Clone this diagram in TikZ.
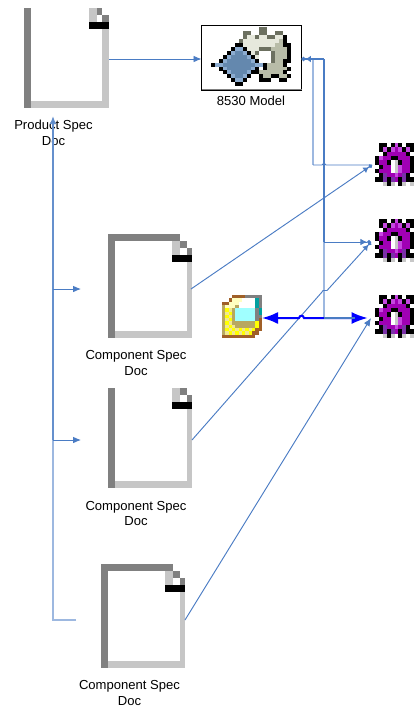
\documentclass[tikz,border=0pt]{standalone}
\usepackage{fontspec}
\setmainfont{Liberation Sans}
\usetikzlibrary{arrows.meta}
\definecolor{pxK}{HTML}{000000}
\definecolor{pxP}{HTML}{A000B4}
\definecolor{pxL}{HTML}{C648E0}
\definecolor{pxD}{HTML}{7A30A8}
\definecolor{pxS}{HTML}{C8C8C8}
\definecolor{pxW}{HTML}{FFFFFF}
\definecolor{pxM}{HTML}{6488AE}
\definecolor{pxV}{HTML}{8CACD0}
\definecolor{pxE}{HTML}{E6E8DC}
\definecolor{pxB}{HTML}{B8BCA8}
\definecolor{pxG}{HTML}{6C7060}
\definecolor{pxN}{HTML}{A06028}
\definecolor{pxA}{HTML}{808080}
\definecolor{pxI}{HTML}{FFFFC0}
\definecolor{pxO}{HTML}{B8A860}
\definecolor{pxC}{HTML}{A0FFFF}
\definecolor{pxT}{HTML}{00A0A0}
\definecolor{pxY}{HTML}{FFFF00}
\definecolor{pxQ}{HTML}{F0E890}
\definecolor{linkblue}{HTML}{4A7CC4}
\definecolor{linklight}{HTML}{9DB8E0}
\definecolor{docdark}{HTML}{808080}
\definecolor{doclight}{HTML}{C6C6C6}
\newcount\pxcol
\newcount\pxrow
\def\pxcell#1{\fill[px#1] (\the\pxcol,\the\pxrow) rectangle ++(1.02,1.02);}
\def\pxmap#1{\ifx#1!\else
  \ifx#1/\pxcol=0 \advance\pxrow by 1 \else
    \ifx#1.\else\pxcell{#1}\fi
    \advance\pxcol by 1 \fi
  \expandafter\pxmap\fi}
% \iconmap{x}{y}{cell w}{cell h}{rows}
\newcommand{\iconmap}[5]{\begin{scope}[shift={(#1,#2)},x=#3*.75pt,y=-#4*.75pt]
  \pxcol=0 \pxrow=0 \pxmap#5!\end{scope}}
\newcommand{\gearicon}[3]{\node[box,minimum width=29.25pt,minimum height=32.25pt] (#1) at (394.5,#3) {};
  \iconmap{375}{#2}{3.9}{4.3}{.KK.KLK.KK/.KLKLPLKLK/..KPPPPPK./KLPPKKPPPK/KPPKWSKPPK/.KPPWSLPPK/KPPPWSLPPK/.KDPPLPDK./KKDKDPKDKK/..SKS.KS.S/}}
% \docicon{name}{L}{T}{R}{B}{bar width}{top bar: 1/0}
\newcommand{\docicon}[7]{%
  \node[box,minimum width={(#4-#2)*.75pt},minimum height={(#5-#3)*.75pt}] (#1) at ({(#2+#4)/2},{(#3+#5)/2}) {};
  \fill[docdark] (#2,#3) rectangle ({#2+7},#5);
  \fill[doclight] ({#2+7},{#5-7}) rectangle (#4,#5);
  \fill[doclight] ({#4-#6},{#3+14+#7*7}) rectangle (#4,#5);
  \ifnum#7=1 \fill[docdark] (#2,#3) rectangle ({#4-12},{#3+7});\fi
  \fill[doclight] ({#4-20},{#3+#7*7}) rectangle ({#4-12},{#3+14+#7*7});
  \fill[docdark] ({#4-12},{#3+#7*7}) rectangle ({#4-#6},{#3+7+#7*7});
  \fill[docdark] ({#4-#6},{#3+7+#7*7}) rectangle (#4,{#3+14+#7*7});
  \fill[black] ({#4-20},{#3+14+#7*7}) rectangle (#4,{#3+21+#7*7});}
\tikzset{
  box/.style={inner sep=0pt,outer sep=0pt},
  lbl/.style={inner sep=0pt,align=center,font=\fontsize{9.8}{11.8}\selectfont},
  link/.style={draw=linkblue,line width=.7pt},
  lightlink/.style={draw=linklight,line width=1.1pt},
  heavylink/.style={draw=linkblue,line width=1.1pt},
  tip/.style={-{Latex[length=6pt,width=5pt,fill=linkblue]}},
  dottip/.style={-{Latex[length=4pt,width=5pt,fill=linkblue]Circle[length=3pt,fill=linkblue]}},
  blueline/.style={draw=blue,line width=1.5pt,{Latex[length=12pt,width=9pt]}-{Latex[length=12pt,width=9pt]}}
}
\begin{document}
\begin{tikzpicture}[x=.75pt,y=-.75pt]
\useasboundingbox (0,0) rectangle (414,707);
\fill[white] (0,0) rectangle (414,707);
\docicon{prod}{24}{8}{109}{108}{7}{0}
\docicon{compa}{108}{234}{192}{338}{5}{1}
\docicon{compb}{108}{388}{192}{488}{5}{0}
\docicon{compc}{101}{564}{185}{668}{5}{1}
\node[lbl] (prodl) at (53.5,133) {Product Spec\\Doc};
\node[lbl] (compal) at (136,363) {Component Spec\\Doc};
\node[lbl] (compbl) at (136,513.5) {Component Spec\\Doc};
\node[lbl] (compcl) at (129.5,693) {Component Spec\\Doc};
\node[box,draw=black,line width=.75pt,minimum width=75pt,minimum height=48.75pt] (model) at (251.5,57.5) {};
\fill[gray] (model.south west) rectangle ([yshift=.9pt]model.south east);
\iconmap{211}{27}{4}{3.95}{............GG....../........GG..GG..GG../........GEEGEEGGEEK./.......GEEEEEEEEEBK./......KKEEEEEEEEBBKK/.....KVVKEEEGGGBBBBK/....KVMMVKEGWWWGBBBK/...KVMMMMVKEWWWGBBBK/..KVMMMMMMVKWWWGBBKK/KVVMMMMMMMMVVKBBBBK./..KVMMMMMMVK.KBBBBBK/...KVMMMMVKKBBBBBBK./....KVMMVK..KBBKKBBK/.....KVVK...KKK..KK./......KK............/}
\node[lbl] (modell) at (251,101) {8530 Model};
\gearicon{ga}{143}{164.5}
\gearicon{gb}{219}{240.5}
\gearicon{gc}{295}{316.5}
\node[box,minimum width=30pt,minimum height=32.25pt] (folder) at (242,316.5) {};
\iconmap{222}{295}{3.33}{3.3}{...NNNNAAAAA/..NIIIWWWWTA/NNIIIWWWWWTA/OIIIOWWWWWTA/OYQOCCCCCCAT/OQYOCCCCCCAT/OYQOCCCCCCAA/OQYOCCCCCCAN/OYQOOOOOOOYN/OQYQOOOOOOYN/OYQYQYQYQYNN/OQYQYQYQYNN./NNNNNNNNNN../}
% routing points
\coordinate (hub) at (324,59);
\coordinate (hubl) at (313,59);
\coordinate (bus) at (53,116);
\coordinate (busa) at (53,289);
\coordinate (busb) at (53,440);
\coordinate (busc) at (53,620);
\coordinate (busaend) at (81,289);
\coordinate (busbend) at (81,440);
\coordinate (buscend) at (76,620);
\coordinate (pa) at (372,165);
\coordinate (pb) at (371,242);
\coordinate (pc) at (371,318);
\coordinate (hubb) at (324,242);
\coordinate (hubc) at (324,318);
\coordinate (outa) at (191,289);
\coordinate (outb) at (192,440);
\coordinate (outc) at (185,620);
\coordinate (corner) at (313,165);
% connectors
\draw[link,tip] (prod.east |- hub) -- (model.west |- hub);
\draw[lightlink] (buscend) -- (busc) -- (busb);
\draw[heavylink,draw=linkblue!85,tip] (busb) -- (bus);
\draw[link,tip] (busa) -- (busaend);
\draw[link,tip] (busb) -- (busbend);
\draw[lightlink] (hubl) -- (corner);
\draw[link] (corner) -- (322,165) .. controls (322.5,162.5) and (325.5,162.5) .. (326,165) -- (pa);
\draw[heavylink] (hub) -- (hubb);
\draw[heavylink,dottip] (hub) -- (model.east |- hub);
\draw[lightlink] (hubb) -- (hubc);
\draw[link,-{Latex[length=5pt,width=5pt,fill=linkblue]Circle[length=3pt,fill=linkblue]}] (hubb) -- (pb);
\draw[link,dottip] (outa) -- (pa);
\draw[link,dottip] (outb) -- (322,292) -- (323,290.5) -- (327,290.5) -- (pb);
\draw[link,tip] (outc) -- (pc);
\draw[blueline,shorten >=2.5pt] (folder.east |- pc) -- (299,318) .. controls (299.5,315) and (303.5,315) .. (304,318) -- (pc);
\draw[heavylink,line width=1.3pt,shorten >=12pt] (hubc) -- (pc);
\end{tikzpicture}
\end{document}
